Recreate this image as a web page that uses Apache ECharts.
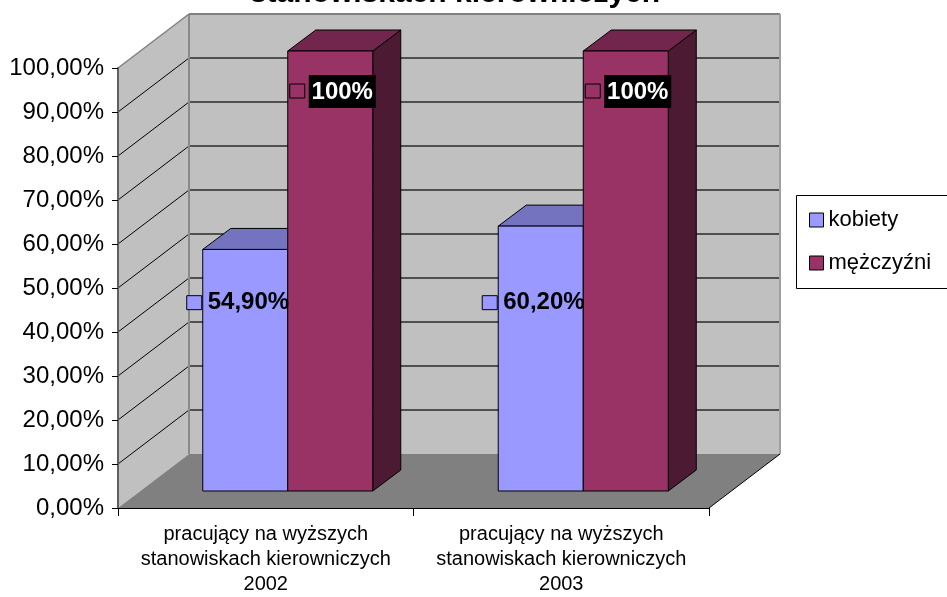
<!DOCTYPE html>
<html>
<head>
<meta charset="utf-8">
<script src="https://cdn.jsdelivr.net/npm/echarts@6/dist/echarts.min.js"></script>
<style>html,body{margin:0;padding:0;background:#fff;}#c{width:947px;height:597px;}</style>
</head>
<body>
<div id="c"></div>
<script>
// ---- data ----
const categories = [
  'pracujący na wyższych\nstanowiskach kierowniczych\n2002',
  'pracujący na wyższych\nstanowiskach kierowniczych\n2003'
];
const seriesNames = ['kobiety', 'mężczyźni'];
const kobiety = [0.549, 0.602];
const mezczyzni = [1.0, 1.0];
const yTicks = [0, 0.1, 0.2, 0.3, 0.4, 0.5, 0.6, 0.7, 0.8, 0.9, 1.0];
const titleText = 'stanowiskach kierowniczych';

// ---- styling constants ----
const FONT = '"Liberation Sans", Arial, sans-serif';
const WALL = [71, -54];     // full depth of the 3D box (px)
const FRONT = [22, -17];    // front face of bars relative to front plane
const DEPTH = [28, -21];    // bar depth
const BAR_FRAC = 0.2877;    // bar width as fraction of category band
const BLUE_LABEL_AT = 0.428;

const colors = [
  {front: '#9999ff', top: '#7373bf', side: '#5c5c99'},
  {front: '#993366', top: '#73264d', side: '#4d1a33'}
];

function fmtPct(v, dec) {
  return (v * 100).toFixed(dec).replace('.', ',') + '%';
}

function renderWalls(params, api) {
  const cs = params.coordSys;
  const xl = cs.x, xr = cs.x + cs.width;
  const yb = api.coord([0, 0])[1];
  const yt = api.coord([0, 1])[1];
  const dx = WALL[0], dy = WALL[1];
  const ch = [];
  ch.push({type: 'polygon', shape: {points: [[xl+dx, yt+dy], [xr+dx, yt+dy], [xr+dx, yb+dy], [xl+dx, yb+dy]]},
    style: {fill: '#c0c0c0', stroke: null}});
  ch.push({type: 'polygon', shape: {points: [[xl, yb], [xl, yt], [xl+dx, yt+dy], [xl+dx, yb+dy]]},
    style: {fill: '#c0c0c0', stroke: null}});
  ch.push({type: 'polygon', shape: {points: [[xl, yb], [xr, yb], [xr+dx, yb+dy], [xl+dx, yb+dy]]},
    style: {fill: '#808080', stroke: null}});
  yTicks.forEach(function (t) {
    if (t === 0 || t === 1) return;
    const y = api.coord([0, t])[1];
    ch.push({type: 'line', shape: {x1: xl+dx, y1: y+dy, x2: xr+dx, y2: y+dy}, style: {stroke: '#2a2a2a', lineWidth: 1.4}});
    ch.push({type: 'line', shape: {x1: xl, y1: y, x2: xl+dx, y2: y+dy}, style: {stroke: '#000', lineWidth: 1}});
  });
  ch.push({type: 'line', shape: {x1: xl+dx, y1: yt+dy, x2: xl+dx, y2: yb+dy}, style: {stroke: '#8a8a8a', lineWidth: 2}});
  ch.push({type: 'line', shape: {x1: xl+dx, y1: yt+dy, x2: xr+dx, y2: yt+dy}, style: {stroke: '#808080', lineWidth: 2}});
  ch.push({type: 'line', shape: {x1: xr+dx, y1: yt+dy, x2: xr+dx, y2: yb+dy}, style: {stroke: '#a0a0a0', lineWidth: 2}});
  ch.push({type: 'line', shape: {x1: xl, y1: yt, x2: xl+dx, y2: yt+dy}, style: {stroke: '#808080', lineWidth: 1.5}});
  ch.push({type: 'line', shape: {x1: xr, y1: yb, x2: xr+dx, y2: yb+dy}, style: {stroke: '#000', lineWidth: 1}});
  return {type: 'group', children: ch};
}

function makeBarRender(sIdx, dec) {
  const c = colors[sIdx];
  return function (params, api) {
    const i = api.value(0), v = api.value(1);
    const base = api.coord([i, 0]);
    const topP = api.coord([i, v]);
    const band = api.size([1, 0])[0];
    const w = band * BAR_FRAC;
    const x0 = base[0] - (sIdx === 0 ? w : 0) + FRONT[0];
    const x1 = x0 + w;
    const yb = base[1] + FRONT[1];
    const yt = topP[1] + FRONT[1];
    const dx = DEPTH[0], dy = DEPTH[1];
    const st = {stroke: '#000', lineWidth: 1};
    const ch = [
      {type: 'polygon', shape: {points: [[x1, yt], [x1+dx, yt+dy], [x1+dx, yb+dy], [x1, yb]]}, style: Object.assign({fill: c.side}, st)},
      {type: 'polygon', shape: {points: [[x0, yt], [x1, yt], [x1+dx, yt+dy], [x0+dx, yt+dy]]}, style: Object.assign({fill: c.top}, st)},
      {type: 'rect', shape: {x: x0, y: yt, width: w, height: yb - yt}, style: Object.assign({fill: c.front}, st)}
    ];
    const txt = fmtPct(v, dec);
    if (sIdx === 0) {
      const ly = api.coord([i, BLUE_LABEL_AT])[1] + FRONT[1];
      ch.push({type: 'rect', shape: {x: x0 - 16, y: ly - 7, width: 15, height: 14}, style: {fill: c.front, stroke: '#000', lineWidth: 1}, z2: 10});
      ch.push({type: 'text', x: x0 + 5, y: ly, style: {text: txt, font: 'bold 24px ' + FONT, fill: '#000',
        align: 'left', verticalAlign: 'middle', textAlign: 'left', textVerticalAlign: 'middle'}, z2: 10});
    } else {
      const ly = yt + 40;
      ch.push({type: 'rect', shape: {x: x0 + 2, y: ly - 7, width: 15, height: 14}, style: {fill: c.front, stroke: '#000', lineWidth: 1}, z2: 10});
      ch.push({type: 'rect', shape: {x: x0 + 21, y: ly - 16, width: 67, height: 33}, style: {fill: '#000', stroke: null}, z2: 10});
      ch.push({type: 'text', x: x0 + 21 + 33.5, y: ly + 1, style: {text: txt, font: 'bold 24px ' + FONT, fill: '#fff',
        align: 'center', verticalAlign: 'middle', textAlign: 'center', textVerticalAlign: 'middle'}, z2: 11});
    }
    return {type: 'group', children: ch};
  };
}

const chart = echarts.init(document.getElementById('c'), null, {renderer: 'canvas'});
chart.setOption({
  animation: false,
  backgroundColor: '#fff',
  graphic: [{
    type: 'text', x: 455, y: -6, z: 100,
    style: {text: titleText, font: 'bold 30px ' + FONT, fill: '#000',
      align: 'center', verticalAlign: 'middle', textAlign: 'center', textVerticalAlign: 'middle'}
  }, {
    type: 'rect', z: 0,
    shape: {x: 796.5, y: 195.5, width: 200, height: 93},
    style: {fill: '#fff', stroke: '#000', lineWidth: 1}
  }],
  legend: {
    data: seriesNames,
    orient: 'vertical',
    left: 796, top: 195,
    padding: [14, 10, 14, 13],
    itemGap: 21,
    itemWidth: 14, itemHeight: 14,
    icon: 'rect',
    borderWidth: 0,
    itemStyle: {borderColor: '#000', borderWidth: 1},
    textStyle: {fontFamily: FONT, fontSize: 22, color: '#000', lineHeight: 22}
  },
  grid: {left: 118, right: 238, top: 68, bottom: 85, containLabel: false},
  xAxis: {
    type: 'category', data: categories, z: 5,
    axisLine: {lineStyle: {color: '#000', width: 1}},
    axisTick: {show: true, length: 8, lineStyle: {color: '#000'}},
    axisLabel: {fontFamily: FONT, fontSize: 20, lineHeight: 25, color: '#000', margin: 14, interval: 0},
    splitLine: {show: false}
  },
  yAxis: {
    type: 'value', min: 0, max: 1, interval: 0.1, z: 5,
    axisLine: {show: true, lineStyle: {color: '#606060', width: 2}},
    axisTick: {show: true, length: 6, lineStyle: {color: '#000'}},
    axisLabel: {fontFamily: FONT, fontSize: 24, color: '#000', margin: 14,
      formatter: function (v) { return fmtPct(v, 2); }},
    splitLine: {show: false}
  },
  series: [
    {type: 'custom', name: '_walls', silent: true, z: 1, data: [[0, 0]], renderItem: renderWalls, encode: {x: 0, y: 1}},
    {type: 'custom', name: seriesNames[0], z: 3, itemStyle: {color: colors[0].front, borderColor: '#000', borderWidth: 1},
      data: kobiety.map(function (v, i) { return [i, v]; }), encode: {x: 0, y: 1}, renderItem: makeBarRender(0, 2)},
    {type: 'custom', name: seriesNames[1], z: 3, itemStyle: {color: colors[1].front, borderColor: '#000', borderWidth: 1},
      data: mezczyzni.map(function (v, i) { return [i, v]; }), encode: {x: 0, y: 1}, renderItem: makeBarRender(1, 0)}
  ]
});
</script>
</body>
</html>
